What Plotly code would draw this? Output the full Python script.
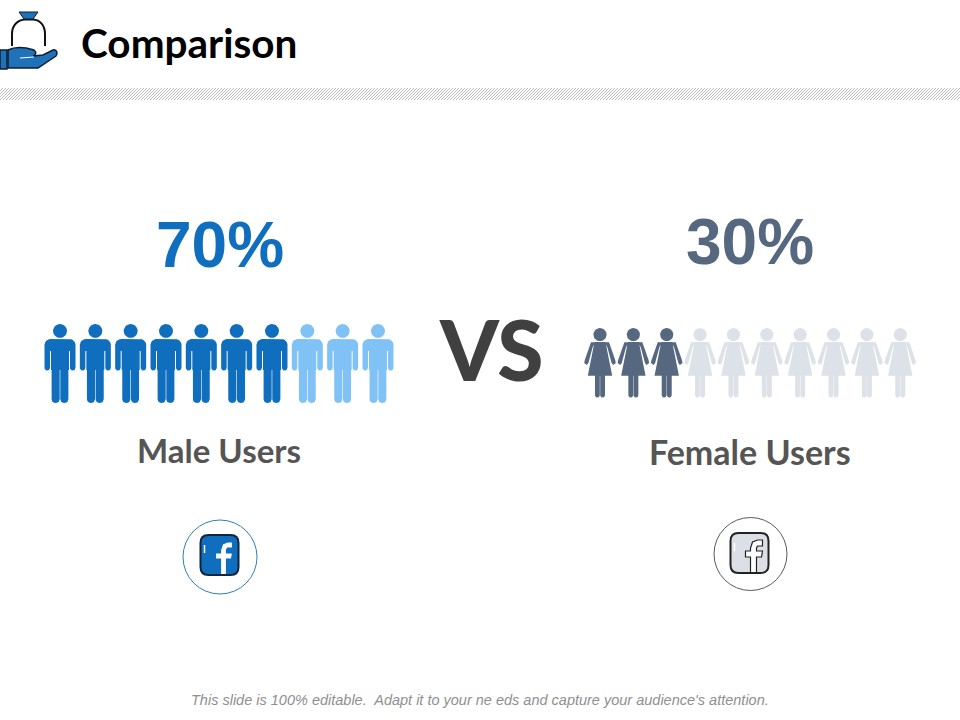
import math
import plotly.graph_objects as go

# values
groups = ['Male Users', 'Female Users']
shares = [70, 30]
icons_per_group = 10

BLUE = '#0f6fbe'
BLUE_LIGHT = '#80c2f6'
SLATE = '#56687f'
SLATE_LIGHT = '#dde1e8'


def circle(cx, cy, r, n=28):
    return [(cx + r * math.cos(2 * math.pi * i / n), cy + r * math.sin(2 * math.pi * i / n)) for i in range(n)]


def corner(cx, cy, r, start):
    return [(cx + r * math.cos(start + k * math.pi / 12), cy + r * math.sin(start + k * math.pi / 12)) for k in range(7)]


def rrect(x0, x1, y0, y1, rt, rb):
    pts = []
    pts += corner(x0 + rt, y0 + rt, rt, math.pi)
    pts += corner(x1 - rt, y0 + rt, rt, 1.5 * math.pi)
    pts += corner(x1 - rb, y1 - rb, rb, 0)
    pts += corner(x0 + rb, y1 - rb, rb, 0.5 * math.pi)
    return pts


# person outlines, relative to (centre x, top y)
male_parts = [
    circle(0, 7, 7),
    rrect(-15.5, 15.5, 15, 27, 6, 0.1),
    rrect(-15.5, -10, 20, 46.5, 0.1, 2.7),
    rrect(10, 15.5, 20, 46.5, 0.1, 2.7),
    rrect(-9, 9, 16, 46, 0.1, 0.1),
    rrect(-8.4, -0.3, 40, 79, 0.1, 3.8),
    rrect(0.3, 8.4, 40, 79, 0.1, 3.8),
]
left_arm = [(-9, 14.3), (-5, 14), (-7.6, 20), (-11.6, 35), (-13.2, 37), (-15.8, 35), (-15.2, 32)]
female_parts = [
    circle(0, 6.6, 6.6),
    [(-5.5, 14), (5.5, 14), (12.2, 47.7), (-12.2, 47.7)],
    left_arm,
    [(-x, y) for x, y in reversed(left_arm)],
    rrect(-5, -0.2, 46, 69.5, 0.1, 2.3),
    rrect(0.2, 5, 46, 69.5, 0.1, 2.3),
]


def people_trace(parts, centers, top, color):
    xs, ys = [], []
    for c in centers:
        for part in parts:
            xs += [c + p[0] for p in part] + [c + part[0][0], None]
            ys += [top + p[1] for p in part] + [top + part[0][1], None]
    return go.Scatter(x=xs, y=ys, mode='lines', fill='toself', fillcolor=color,
                      line=dict(width=0, color=color), hoverinfo='skip', showlegend=False)


male_x = [60 + i * 35.33 for i in range(icons_per_group)]
female_x = [600 + i * 33.36 for i in range(icons_per_group)]
male_on = round(shares[0] / 100 * icons_per_group)
female_on = round(shares[1] / 100 * icons_per_group)

fig = go.Figure()
fig.add_trace(people_trace(male_parts, male_x[:male_on], 324, BLUE))
fig.add_trace(people_trace(male_parts, male_x[male_on:], 324, BLUE_LIGHT))
fig.add_trace(people_trace(female_parts, female_x[:female_on], 328, SLATE))
fig.add_trace(people_trace(female_parts, female_x[female_on:], 328, SLATE_LIGHT))

shapes = []

# hatched band under the title
hatch = ''.join(f'M{x},100 L{x + 12},88 ' for x in range(-12, 962, 3))
shapes.append(dict(type='path', path=hatch, line=dict(color='#bdbdbd', width=1)))

# money bag + hand icon
NAVY = '#0d1f33'
shapes.append(dict(type='path', path='M12,46 L12,34 C12,25 18,20 25,19.5 L33,19.5 C40,20 45,25 45,34 L45,46',
                   line=dict(color='#111111', width=2)))
shapes.append(dict(type='path', path='M19,12 L38,12 L33,19 L24,19 Z', fillcolor='#1f72b8',
                   line=dict(color=NAVY, width=1)))
shapes.append(dict(type='path', path='M0,50 L7,50 L7,69 L0,69 Z', fillcolor='#1f72b8',
                   line=dict(color=NAVY, width=1.5)))
shapes.append(dict(type='path',
                   path='M8,50 C14,47 24,47 34,50 C37,52 36,55 33,56 L43,55 L53,50 C57,49 58,54 56,56 L38,68 L8,68 Z',
                   fillcolor='#1f72b8', line=dict(color=NAVY, width=1.5)))
shapes.append(dict(type='path', path='M20,58 L34,57', line=dict(color='#ffffff', width=1)))


def f_logo(x0, y0, fill, stroke, f_line):
    # rounded square with the f cut out of it
    r = 8
    x1, y1 = x0 + 38, y0 + 40
    outline = (f'M{x0 + r},{y0} L{x1 - r},{y0} Q{x1},{y0} {x1},{y0 + r} L{x1},{y1 - r} Q{x1},{y1} {x1 - r},{y1} '
               f'L{x0 + r},{y1} Q{x0},{y1} {x0},{y1 - r} L{x0},{y0 + r} Q{x0},{y0} {x0 + r},{y0} Z')
    shapes.append(dict(type='path', path=outline, fillcolor=fill, line=dict(width=0)))
    pts = [(26, 40), (26, 24), (31, 24), (32, 18), (26, 18), (26, 15), (27, 13), (32, 13),
           (32, 7), (27, 7), (22, 9), (20, 15), (20, 18), (15, 18), (15, 24), (20, 24), (20, 40)]
    d = 'M' + ' L'.join(f'{x0 + a},{y0 + b}' for a, b in pts) + ' Z'
    shapes.append(dict(type='path', path=d, fillcolor='#ffffff', line=dict(color=f_line, width=1.2)))
    shapes.append(dict(type='path', path=outline, line=dict(color=stroke, width=2)))
    shapes.append(dict(type='path', path=f'M{x0 + 4},{y0 + 10} L{x0 + 4},{y0 + 18}',
                       line=dict(color='#ffffff', width=1.5)))


shapes.append(dict(type='circle', x0=183, x1=257, y0=520, y1=594, line=dict(color='#2f80b0', width=1)))
f_logo(200.5, 535, BLUE, '#10263f', BLUE)
shapes.append(dict(type='circle', x0=714, x1=787, y0=517.5, y1=590.5, line=dict(color='#5a5a5a', width=1)))
f_logo(730.5, 533, '#dcdfe5', '#222222', '#222222')

texts = [
    (79, 42, '<b>Comparison</b>', 'Lato', 40.5, '#000000', 'left', 700),
    (220, 245, f'{shares[0]}%', 'Liberation Sans', 64, BLUE, 'center', 700),
    (750, 242, f'{shares[1]}%', 'Liberation Sans', 64, SLATE, 'center', 700),
    (491, 348, 'VS', 'Lato', 84, '#404040', 'center', 900),
    (219, 450, f'{groups[0]}', 'Lato', 33, '#555555', 'center', 700),
    (750, 451, f'{groups[1]}', 'Lato', 34, '#555555', 'center', 700),
    (480, 700, "<i>This slide is 100% editable.  Adapt it to your ne eds and capture your audience's attention.</i>",
     'Liberation Sans', 14.5, '#8f8f8f', 'center', 400),
]
for x, y, t, font, size, color, anchor, weight in texts:
    fig.add_annotation(x=x, y=y, text=t, showarrow=False, xanchor=anchor, yanchor='middle',
                       font=dict(family=font, size=size, color=color, weight=weight))

fig.update_layout(width=960, height=720, margin=dict(l=0, r=0, t=0, b=0),
                  paper_bgcolor='white', plot_bgcolor='white', shapes=shapes,
                  xaxis=dict(range=[0, 960], visible=False, fixedrange=True),
                  yaxis=dict(range=[720, 0], visible=False, fixedrange=True))

fig.write_html('out.html', config={'displayModeBar': False},
               post_script="document.body.style.margin='0';document.body.style.overflow='hidden';")
